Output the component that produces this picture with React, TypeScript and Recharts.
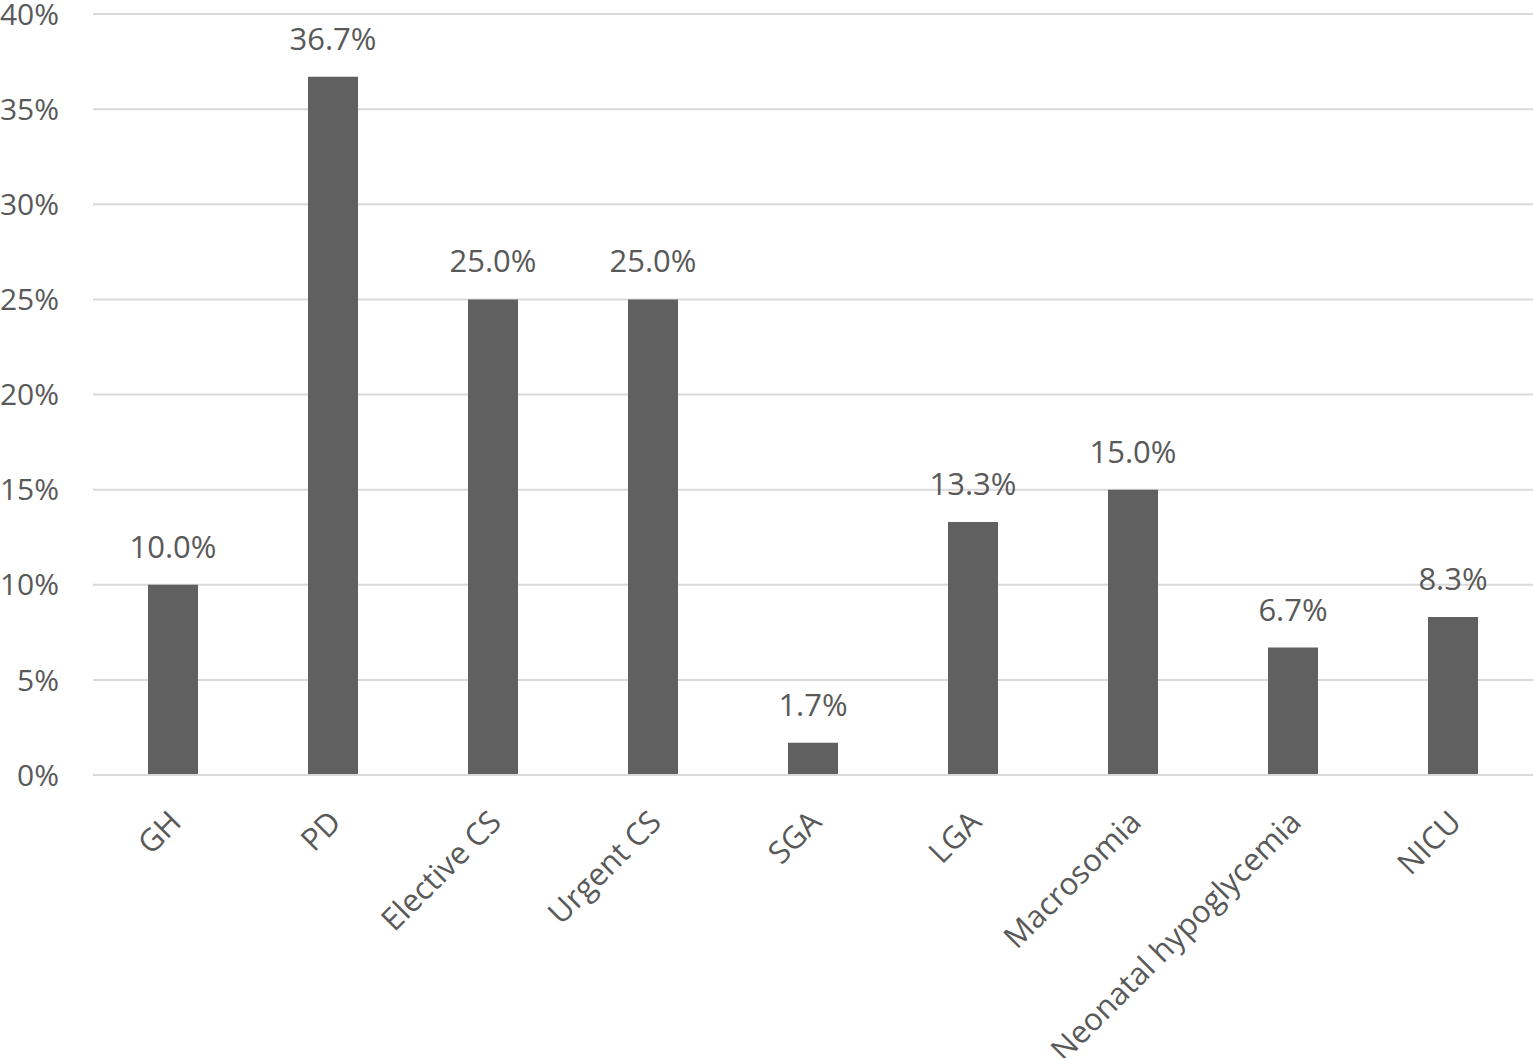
import { BarChart, Bar, XAxis, YAxis, CartesianGrid, LabelList } from "recharts"

const categories = [
  "GH",
  "PD",
  "Elective CS",
  "Urgent CS",
  "SGA",
  "LGA",
  "Macrosomia",
  "Neonatal hypoglycemia",
  "NICU",
]

const rates = [10.0, 36.7, 25.0, 25.0, 1.7, 13.3, 15.0, 6.7, 8.3]

const yTicks = [0, 5, 10, 15, 20, 25, 30, 35, 40]

const data = categories.map((name, i) => ({ name, rate: rates[i] }))

const TEXT = "#595959"
const FONT = "'Open Sans', sans-serif"

function AngledTick(props: any) {
  const { x, y, payload } = props
  const ax = x + 10
  const ay = y + 49
  return (
    <text
      x={ax}
      y={ay}
      textAnchor="end"
      fill={TEXT}
      fontSize={31}
      fontFamily={FONT}
      transform={`rotate(-45, ${ax}, ${ay})`}
    >
      {payload.value}
    </text>
  )
}

export default function App() {
  return (
    <div
      style={{
        position: "absolute",
        left: 0,
        top: 0,
        width: 1533,
        height: 1058,
        background: "#ffffff",
      }}
    >
      <BarChart
        width={1533}
        height={1058}
        data={data}
        margin={{ top: 14, right: 0, bottom: 0, left: 0 }}
        barSize={50}
      >
        <CartesianGrid vertical={false} stroke="#d9d9d9" strokeWidth={2} />
        <XAxis
          dataKey="name"
          interval={0}
          height={283}
          tickLine={false}
          tickSize={0}
          tickMargin={0}
          axisLine={{ stroke: "#d9d9d9", strokeWidth: 2 }}
          tick={<AngledTick />}
        />
        <YAxis
          width={93}
          domain={[0, 40]}
          ticks={yTicks}
          interval={0}
          axisLine={false}
          tickLine={false}
          tickSize={0}
          tickMargin={34}
          tickFormatter={(v) => `${v}%`}
          tick={{ fontSize: 30, fill: TEXT, fontFamily: FONT }}
        />
        <Bar dataKey="rate" fill="#606060" isAnimationActive={false}>
          <LabelList
            dataKey="rate"
            position="top"
            offset={27}
            formatter={(v: any) => `${Number(v).toFixed(1)}%`}
            style={{ fontSize: 31, fill: TEXT, fontFamily: FONT }}
          />
        </Bar>
      </BarChart>
    </div>
  )
}
